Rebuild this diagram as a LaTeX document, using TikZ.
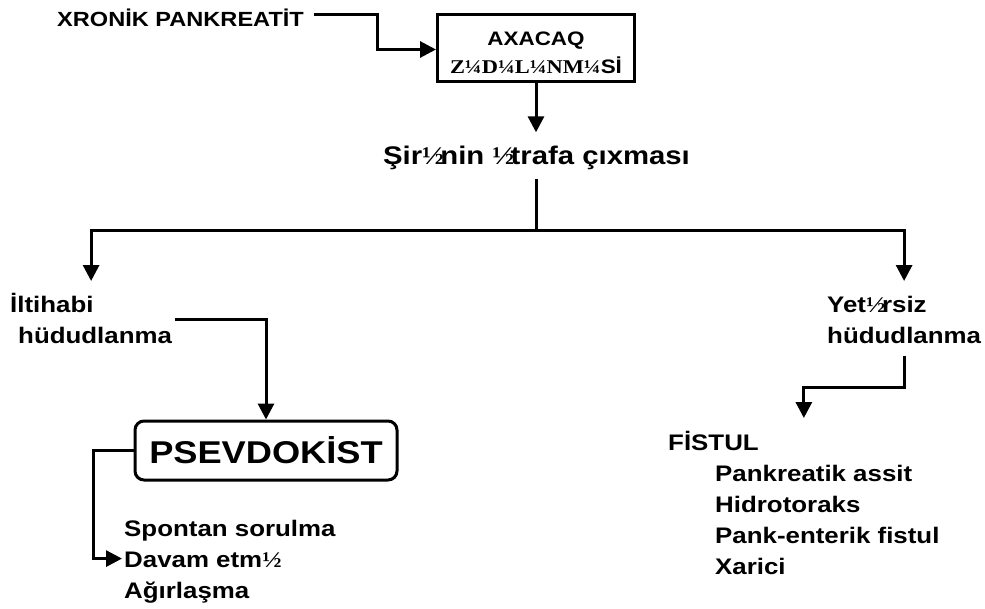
\documentclass[tikz,border=0pt]{standalone}
\usepackage{fontspec}
\setmainfont{Liberation Sans}[FakeStretch=1.15]
\newfontfamily\serifw{Liberation Serif}[FakeStretch=1.15]
\usetikzlibrary{arrows.meta}
\newcommand{\lhalf}{{\serifw ½}\kern-.15em }
\newcommand{\tp}{\rule{0pt}{22pt}}
\tikzset{
  conn/.style={line width=3pt},
  arr/.style={conn,-{Triangle[length=16pt,width=16pt]}},
  lbl/.style={inner sep=0pt, anchor=north west, align=left,
              font=\bfseries\fontsize{22.5}{31}\selectfont},
  boxsq/.style={draw, line width=3pt, inner sep=0pt},
}
\begin{document}
\begin{tikzpicture}[x=1pt,y=-1pt]
\useasboundingbox (0,0) rectangle (985,608);

\node[anchor=base west, inner sep=0pt, font=\bfseries\fontsize{20.5}{24}\selectfont]
  (xron) at (57,26.5) {XRONİK PANKREATİT};

\node[boxsq, minimum width=197pt, minimum height=67.5pt, align=center,
      font=\bfseries\fontsize{19.5}{28}\selectfont]
  (box) at (536,47.75) {\rule{0pt}{23pt}AXACAQ\\{\serifw Z¼D¼L¼NM¼}Sİ};

\node[anchor=base, inner sep=0pt, font=\bfseries\fontsize{25.5}{30}\selectfont]
  (title) at (536.5,164) {Şir\lhalf nin \lhalf trafa çıxması};

\coordinate (j) at (536.5,230);

\node[lbl] (ilt) at (10,290) {\tp İltihabi\\\hspace*{8pt}hüdudlanma};
\node[lbl] (yet) at (827,290) {\tp Yet\lhalf rsiz\\hüdudlanma};

\node[boxsq, rounded corners=9pt, minimum width=262pt, minimum height=59pt,
      font=\bfseries\fontsize{31.5}{36}\selectfont]
  (pse) at (266,450.5) {PSEVDOKİST};

\node[lbl] (list) at (124,514) {\tp Spontan sorulma\\Davam etm{\serifw ½}\\Ağırlaşma};

\node[lbl] (fist) at (668,428) {\tp FİSTUL\\
  \hspace*{47pt}Pankreatik assit\\
  \hspace*{47pt}Hidrotoraks\\
  \hspace*{47pt}Pank-enterik fistul\\
  \hspace*{47pt}Xarici};

% connectors
\draw[arr] (xron.east) ++(10,-3.3) -- ++(63,0) |- ([yshift=-1.75pt]box.west);
\draw[arr, shorten >=13pt] (box.south) -- (box.south |- title.north);
\draw[conn, shorten <=10pt] (title.south) -- (j);
\draw[arr, shorten >=9pt] (j) -| (ilt.north);
\draw[arr, shorten >=9pt] (j) -| (yet.north);
\draw[arr, shorten <=3pt] ([yshift=-2.5pt]ilt.east) -| (pse.north);
\draw[arr, shorten >=2pt] (pse.west) -- ++(-40.5,0) |- (list.west);
\draw[arr, shorten >=10pt] ([yshift=-12pt]yet.south) -- ++(0,32) -| (fist.north);
\end{tikzpicture}
\end{document}
